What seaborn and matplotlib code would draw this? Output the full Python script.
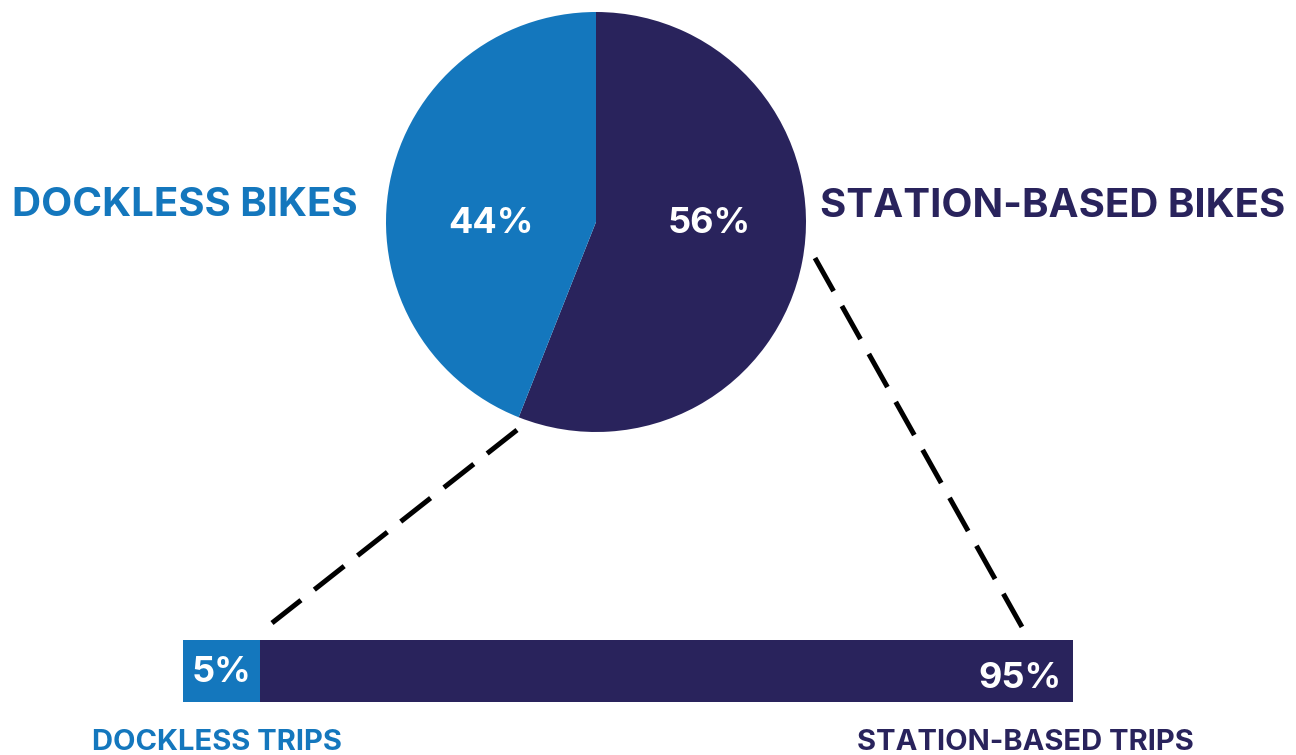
import numpy as np
import pandas as pd
import seaborn as sns
import matplotlib
matplotlib.use("Agg")
import matplotlib.pyplot as plt

# share of the bike fleet (pie) and of trips taken (bar), in percent
bike_types = ["Station-based bikes", "Dockless bikes"]
bike_share = [56, 44]
trip_types = ["Dockless trips", "Station-based trips"]
trip_share = [5, 95]

DOCKLESS = "#1477BD"
STATION = "#29235C"

sns.set_theme(style="white")
plt.rcParams['font.family'] = ['Inter', 'DejaVu Sans']

W, H = 1296, 755
fig = plt.figure(figsize=(W / 100, H / 100), dpi=100)
ax = fig.add_axes([0, 0, 1, 1])
ax.set_zorder(3)


def img(x, y):
    # picture pixels (y down) -> axes units (y up)
    return x, H - y


# pie of bikes
cx, cy = img(596, 222)
ax.pie(bike_share, colors=[STATION, DOCKLESS], startangle=90, counterclock=False,
       center=(cx, cy), radius=210, wedgeprops=dict(linewidth=0))
ax.set_xlim(0, W)
ax.set_ylim(0, H)
ax.set_aspect("auto")
ax.axis("off")

pct = dict(fontsize=26, fontweight="bold", color="white", va="baseline")
head = dict(fontsize=29, fontweight="bold", ha="left", va="baseline")
ax.text(*img(491, 233), f"{bike_share[1]}%", ha="center", **pct)
ax.text(*img(709, 233), f"{bike_share[0]}%", ha="center", **pct)
ax.text(*img(12, 216), bike_types[1].upper(), color=DOCKLESS, **head)
ax.text(*img(820, 217), bike_types[0].upper(), color=STATION, **head)

# dashed connectors from the pie to the trips bar
dash = dict(color="black", lw=3.6, linestyle=(0, (7.6, 3.4)), solid_capstyle="butt")
for (x0, y0), (x1, y1) in [((517, 430), (272, 623)), ((815, 258), (1022, 627))]:
    p0, p1 = img(x0, y0), img(x1, y1)
    ax.plot([p0[0], p1[0]], [p0[1], p1[1]], **dash)

# stacked bar of trips
bar_ax = fig.add_axes([183 / W, (H - 702) / H, 890 / W, 62 / H])
total = pd.DataFrame({"share": [sum(trip_share)], "row": ["trips"]})
# the small segment is kept wide enough to hold its label, as in the original
dockless_shown = max(trip_share[0], 8.7)
first = pd.DataFrame({"share": [dockless_shown], "row": ["trips"]})
sns.barplot(data=total, x="share", y="row", color=STATION, saturation=1,
            width=1, linewidth=0, ax=bar_ax)
sns.barplot(data=first, x="share", y="row", color=DOCKLESS, saturation=1,
            width=1, linewidth=0, ax=bar_ax)
bar_ax.set_xlim(0, 100)
bar_ax.set_ylim(0.5, -0.5)
bar_ax.axis("off")

ax.text(*img(192, 682), f"{trip_share[0]}%", ha="left", **pct)
ax.text(*img(1061, 688), f"{trip_share[1]}%", ha="right", **pct)

small = dict(fontsize=21, fontweight="bold", ha="left", va="baseline")
ax.text(*img(92, 750), trip_types[0].upper(), color=DOCKLESS, **small)
ax.text(*img(857, 750), trip_types[1].upper(), color=STATION, **small)

fig.savefig("out.png", dpi=100, facecolor="white")
